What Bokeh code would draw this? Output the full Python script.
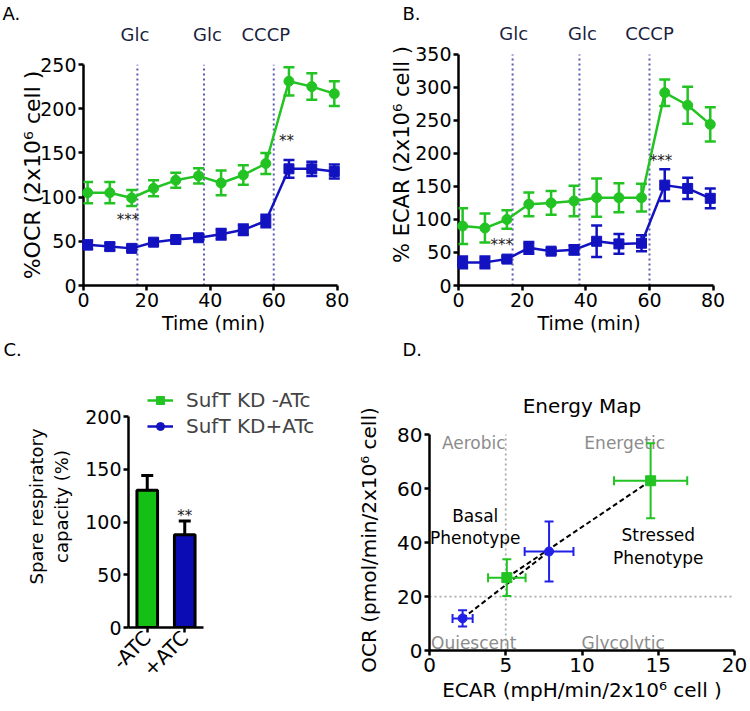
import numpy as np
from bokeh.plotting import figure
from bokeh.models import (ColumnDataSource, Whisker, TeeHead, Title, Legend, LegendItem,
                          Range1d, FixedTicker, LinearAxis)
from bokeh.layouts import row, column
from bokeh.embed import file_html
from bokeh.resources import INLINE
from bokeh.core.properties import value

# ---------------- data ----------------
time_min = [1.3, 8.3, 15.2, 22.1, 29.1, 36.3, 43.4, 50.4, 57.5, 64.8, 72.0, 79.1]
injection_time = [17, 38, 60]
injection_label = ["Glc", "Glc", "CCCP"]
injection_label_x_ocr = [16.2, 39.1, 57.5]

ocr_minus_atc = [105, 105, 99, 110, 119, 124, 116, 125, 138, 231, 225, 217]
ocr_minus_atc_err = [12, 12, 9, 9, 8.5, 8.5, 14, 11, 12, 16, 15, 14]
ocr_plus_atc = [46, 44, 42, 49, 52, 54, 58, 63, 73, 132, 132, 129]
ocr_plus_atc_err = [5, 4, 3, 3, 3, 3, 6, 6, 7, 10, 8, 8]

ecar_minus_atc = [90, 87, 100, 123, 125, 128, 133, 133, 133, 292, 273, 244]
ecar_minus_atc_err = [27, 22, 14, 18, 18, 23, 29, 22, 21, 20, 28, 26]
ecar_plus_atc = [35, 35, 40, 57, 52, 54, 67, 63, 64, 152, 147, 132]
ecar_plus_atc_err = [9, 9, 4, 9, 4, 7, 24, 15, 12, 24, 16, 15]

ocr_stars_x = [14, 64]
ocr_stars_y = [74, 164]
ocr_stars = ["***", "**"]
ecar_stars_x = [13.6, 63.6]
ecar_stars_y = [62, 188]
ecar_stars = ["***", "***"]

conditions = ["-ATC", "+ATC"]
spare_capacity = [130, 88]
spare_capacity_err = [14, 13]
spare_star_y = [106]
spare_star = ["**"]

series_names = ["SufT KD -ATc", "SufT KD+ATc"]

map_ecar_minus = [5.07, 14.5]
map_ecar_minus_err = [1.23, 2.4]
map_ocr_minus = [27.0, 62.9]
map_ocr_minus_err = [6.8, 13.9]
map_ecar_plus = [2.17, 7.84]
map_ecar_plus_err = [0.66, 1.6]
map_ocr_plus = [11.9, 36.7]
map_ocr_plus_err = [3.0, 11.1]
map_ecar_threshold = 5
map_ocr_threshold = 20
quadrant_names = ["Aerobic", "Energetic", "Quiescent", "Glycolytic"]
quadrant_x = [2.9, 12.8, 2.9, 12.7]
quadrant_y = [77, 77, 2.7, 2.7]
phenotype_names = ["Basal\nPhenotype", "Stressed\nPhenotype"]
phenotype_x = [3.0, 15.0]
phenotype_y = [45.8, 38.6]

# ---------------- styles ----------------
FONT = "DejaVu Sans"
GREEN = "#22c322"
BLUE = "#1212c0"
BAR_GREEN = "#14c014"
BAR_BLUE = "#0c0cb4"
MAP_BLUE = "#2020e6"
INJ = "#5a5ab4"
GRAY = "#8c8c8c"
INJ_TEXT = "#1b1f40"


def style(p, tick_size, title_size):
    for ax in p.axis:
        ax.axis_line_width = 2.5
        ax.axis_line_color = "black"
        ax.major_tick_line_width = 2.5
        ax.major_tick_line_color = "black"
        ax.major_tick_out = 5
        ax.major_tick_in = 0
        ax.minor_tick_line_color = None
        ax.major_label_text_font = FONT
        ax.major_label_text_font_size = tick_size
        ax.major_label_text_color = "black"
        ax.major_label_standoff = 2
        ax.axis_label_text_font = FONT
        ax.axis_label_text_font_style = "normal"
        ax.axis_label_text_font_size = title_size
        ax.axis_label_text_color = "black"
        ax.axis_label_standoff = 0
    p.xgrid.visible = False
    p.ygrid.visible = False
    p.outline_line_color = None


def add_title(p, text, offset, standoff, place="above", size="18px", align="left"):
    p.add_layout(Title(text=text, align=align, offset=offset, standoff=standoff,
                       text_font=FONT, text_font_size=size, text_font_style="normal",
                       text_color="black"), place)


def time_panel(width, height, left, right, top, bottom, axis_px, y_max, y_step, y_label,
               y_label_size, y_label_standoff, minus, minus_err, plus, plus_err,
               sx, sy, st, panel_letter, letter_offset, letter_standoff,
               next_letter, next_offset, glc_mode, glc_arg):
    fh = height - top - bottom
    y_top = y_max * fh / axis_px            # frame may reach above the axis end
    p = figure(width=width, height=height, x_range=Range1d(0, 82), y_range=Range1d(0, y_top),
               output_backend="svg", toolbar_location=None,
               min_border_left=left, min_border_right=right,
               min_border_top=top, min_border_bottom=bottom)
    style(p, "19px", "19px")
    p.xaxis.bounds = (0, 80)
    p.yaxis.bounds = (0, y_max)
    p.xaxis.ticker = FixedTicker(ticks=[0, 20, 40, 60, 80])
    p.yaxis.ticker = FixedTicker(ticks=list(range(0, y_max + 1, y_step)))
    p.xaxis.axis_label = "Time (min)"
    p.xaxis.axis_label_standoff = 2
    p.yaxis.axis_label = y_label
    p.yaxis.axis_label_text_font_size = y_label_size
    p.yaxis.axis_label_standoff = y_label_standoff
    p.segment(x0=injection_time, y0=[0] * 3, x1=injection_time, y1=[y_max] * 3,
              line_color=INJ, line_width=2, line_dash="2 3")
    if glc_mode == "axis":
        glc_axis = LinearAxis(ticker=FixedTicker(ticks=glc_arg),
                              major_label_overrides=dict(zip(glc_arg, injection_label)),
                              axis_line_color=None, major_tick_line_color=None,
                              minor_tick_line_color=None, major_tick_out=0,
                              major_label_standoff=20, major_label_text_font=FONT,
                              major_label_text_font_size="18px",
                              major_label_text_color=INJ_TEXT)
        p.add_layout(glc_axis, "above")
    else:
        glc_px, offsets = glc_arg
        glc_y = y_max + glc_px * y_max / axis_px
        p.text(x=injection_time, y=[glc_y] * 3, text=injection_label, x_offset=offsets,
               text_font=value(FONT), text_font_size="18px", text_align="center",
               text_baseline="middle", text_color=INJ_TEXT)
    for vals, errs, color, marker in [(minus, minus_err, GREEN, "circle"),
                                      (plus, plus_err, BLUE, "square")]:
        src = ColumnDataSource(dict(t=time_min, y=vals,
                                    lo=[v - e for v, e in zip(vals, errs)],
                                    hi=[v + e for v, e in zip(vals, errs)]))
        p.line("t", "y", source=src, line_color=color, line_width=2.5)
        p.add_layout(Whisker(source=src, base="t", upper="hi", lower="lo", line_color=color,
                             line_width=2.5, level="overlay",
                             upper_head=TeeHead(size=11, line_color=color, line_width=2.5),
                             lower_head=TeeHead(size=11, line_color=color, line_width=2.5)))
        p.scatter("t", "y", source=src, marker=marker, size=10, fill_color=color,
                  line_color=color, level="overlay")
    p.text(x=sx, y=sy, text=st, text_font=value(FONT), text_font_size="15px",
           text_align="center", text_baseline="middle", text_color="#222222")
    add_title(p, panel_letter, letter_offset, letter_standoff)
    add_title(p, next_letter, next_offset, 0, place="below")
    return p


# ---------------- A ----------------
H1 = 360
pA = time_panel(375, H1, 83, 32, 64, H1 - 285, 221, 250, 50, "%OCR (2x10\u2076 cell )", "22px",
                -8, ocr_minus_atc, ocr_minus_atc_err, ocr_plus_atc, ocr_plus_atc_err,
                ocr_stars_x, ocr_stars_y, ocr_stars, "A.", -81, -6, "C.", -80,
                "axis", injection_label_x_ocr)

# ---------------- B ----------------
pB = time_panel(374, H1, 83, 30, 22, H1 - 285, 232, 350, 50, "% ECAR (2x10\u2076 cell )", "21px",
                -2, ecar_minus_atc, ecar_minus_atc_err, ecar_plus_atc, ecar_plus_atc_err,
                ecar_stars_x, ecar_stars_y, ecar_stars, "B.", -56, 0, "D.", -56,
                "text", (21, [1, 3, 0]))

# ---------------- C ----------------
H2 = 710 - H1
C_W, C_L, C_R, C_T = 354, 128, 24, 385 - H1
C_B = 710 - 627
c_fw = C_W - C_L - C_R
c_fh = H2 - C_T - C_B
unit_px = 37.5
c_pos = [i + 0.5 for i in range(len(conditions))]
pC = figure(width=C_W, height=H2, x_range=Range1d(0, c_fw / unit_px),
            y_range=Range1d(0, 200 * c_fh / 211), output_backend="svg", toolbar_location=None,
            min_border_left=C_L, min_border_right=C_R, min_border_top=C_T, min_border_bottom=C_B)
style(pC, "19px", "18px")
pC.xaxis.bounds = (0, len(conditions))
pC.yaxis.bounds = (0, 200)
pC.yaxis.ticker = FixedTicker(ticks=[0, 50, 100, 150, 200])
pC.xaxis.ticker = FixedTicker(ticks=c_pos)
pC.xaxis.major_label_overrides = dict(zip(c_pos, conditions))
pC.xaxis.major_label_orientation = np.pi / 4
pC.xaxis.major_label_text_font_size = "20px"
pC.yaxis.axis_label = "Spare respiratory\ncapacity (%)"
pC.yaxis.axis_label_standoff = 10
bar_src = ColumnDataSource(dict(x=c_pos, top=spare_capacity,
                                hi=[v + e for v, e in zip(spare_capacity, spare_capacity_err)],
                                color=[BAR_GREEN, BAR_BLUE]))
pC.add_layout(Whisker(source=bar_src, base="x", upper="hi", lower="top", line_color="black",
                      line_width=3, level="underlay",
                      upper_head=TeeHead(size=12, line_color="black", line_width=3),
                      lower_head=None))
pC.vbar(x="x", top="top", width=0.55, source=bar_src, fill_color="color",
        line_color="black", line_width=3)
pC.text(x=[c_pos[1]], y=spare_star_y, text=spare_star, text_font=value(FONT),
        text_font_size="15px", text_align="center", text_baseline="middle",
        text_color="#222222")
leg_src = ColumnDataSource(dict(x=np.array([np.nan]), y=np.array([np.nan])))
l0 = pC.line("x", "y", source=leg_src, line_color=GREEN, line_width=2.5)
s0 = pC.scatter("x", "y", source=leg_src, marker="square", size=8, color=GREEN)
l1 = pC.line("x", "y", source=leg_src, line_color=BLUE, line_width=2.5)
s1 = pC.scatter("x", "y", source=leg_src, marker="circle", size=8, color=BLUE)
legend = Legend(items=[LegendItem(label=series_names[0], renderers=[l0, s0]),
                       LegendItem(label=series_names[1], renderers=[l1, s1])],
                location=(19, 189), orientation="vertical",
                label_text_font=FONT, label_text_font_size="20px",
                glyph_width=26, glyph_height=20, label_standoff=13, spacing=2,
                padding=0, margin=0, border_line_color=None, background_fill_alpha=0)
pC.add_layout(legend)

# ---------------- D ----------------
D_W, D_L, D_R, D_T, D_B = 395, 66, 15, 434 - H1 - 5, 60
d_fh = H2 - D_T - D_B - 5
pD = figure(width=D_W, height=H2, x_range=Range1d(0, 20), y_range=Range1d(0, 80 * d_fh / 211),
            output_backend="svg", toolbar_location=None,
            min_border_left=D_L, min_border_right=D_R, min_border_top=D_T, min_border_bottom=D_B)
style(pD, "20px", "20px")
pD.yaxis.bounds = (0, 80)
pD.xaxis.ticker = FixedTicker(ticks=[0, 5, 10, 15, 20])
pD.yaxis.ticker = FixedTicker(ticks=[0, 20, 40, 60, 80])
pD.xaxis.axis_label = "ECAR (mpH/min/2x10\u2076 cell )"
pD.xaxis.axis_label_standoff = 3
pD.yaxis.axis_label = "OCR (pmol/min/2x10\u2076 cell)"
pD.yaxis.axis_label_standoff = 13
add_title(pD, "Energy Map", 0, 24, size="20px", align="center")
pD.segment(x0=[map_ecar_threshold, 0], y0=[0, map_ocr_threshold],
           x1=[map_ecar_threshold, 20], y1=[80, map_ocr_threshold],
           line_color="#aaaaaa", line_width=1.8, line_dash="2 3")
pD.text(x=quadrant_x, y=quadrant_y, text=quadrant_names, text_font=value(FONT),
        text_font_size="17px", text_align="center", text_baseline="alphabetic",
        text_color=GRAY)
pD.text(x=phenotype_x, y=phenotype_y, text=phenotype_names, text_font=value(FONT),
        text_font_size="17px", text_align="center", text_baseline="middle",
        text_color="black", text_line_height=1.12)
for ex, exe, oy, oye, color, marker, msize in [
        (map_ecar_minus, map_ecar_minus_err, map_ocr_minus, map_ocr_minus_err, GREEN, "square", 10),
        (map_ecar_plus, map_ecar_plus_err, map_ocr_plus, map_ocr_plus_err, MAP_BLUE, "circle", 9)]:
    src = ColumnDataSource(dict(x=ex, y=oy,
                                xlo=[a - b for a, b in zip(ex, exe)],
                                xhi=[a + b for a, b in zip(ex, exe)],
                                ylo=[a - b for a, b in zip(oy, oye)],
                                yhi=[a + b for a, b in zip(oy, oye)]))
    pD.line("x", "y", source=src, line_color="black", line_width=2, line_dash="5 3")
    pD.add_layout(Whisker(source=src, base="x", upper="yhi", lower="ylo", dimension="height",
                          line_color=color, line_width=2, level="overlay",
                          upper_head=TeeHead(size=9, line_color=color, line_width=2),
                          lower_head=TeeHead(size=9, line_color=color, line_width=2)))
    pD.add_layout(Whisker(source=src, base="y", upper="xhi", lower="xlo", dimension="width",
                          line_color=color, line_width=2, level="overlay",
                          upper_head=TeeHead(size=9, line_color=color, line_width=2),
                          lower_head=TeeHead(size=9, line_color=color, line_width=2)))
    pD.scatter("x", "y", source=src, marker=marker, size=msize, color=color, level="overlay")

layout = column(row(column(pA), column(pB)), row(column(pC), column(pD)))
open("out.html", "w").write(file_html(layout, INLINE))
